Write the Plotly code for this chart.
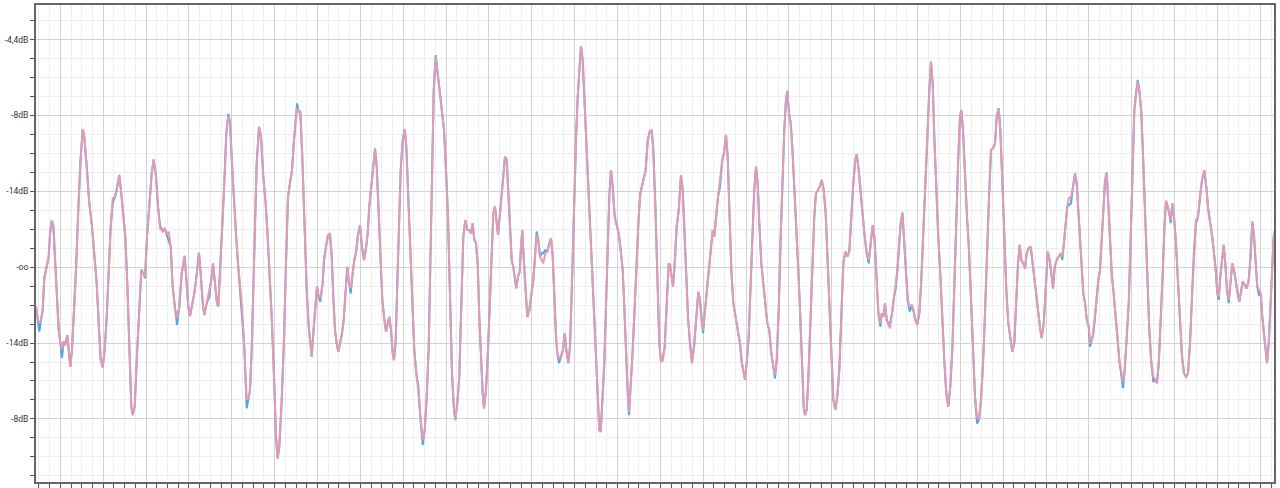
import plotly.graph_objects as go

# x: time (major grid = 1 unit), y: linear amplitude (labels shown in dB)
x_vals = [
-0.567,-0.520,-0.490,-0.450,-0.411,-0.373,-0.317,-0.271,-0.240,-0.201,
-0.163,-0.124,-0.084,-0.037,-0.007,0.040,0.079,0.117,0.163,0.196,
0.233,0.273,0.313,0.366,0.420,0.467,0.523,0.560,0.616,0.677,
0.740,0.803,0.849,0.896,0.943,0.989,1.036,1.083,1.129,1.176,
1.223,1.269,1.307,1.346,1.377,1.423,1.470,1.517,1.563,1.610,
1.657,1.689,1.736,1.783,1.843,1.890,1.937,1.976,2.023,2.077,
2.133,2.179,2.233,2.280,2.326,2.389,2.436,2.483,2.529,2.576,
2.622,2.676,2.723,2.777,2.833,2.902,2.949,2.986,3.026,3.073,
3.126,3.173,3.236,3.276,3.323,3.360,3.416,3.476,3.523,3.563,
3.609,3.656,3.686,3.733,3.789,3.836,3.873,3.920,3.959,4.006,
4.053,4.099,4.146,4.193,4.239,4.293,4.349,4.396,4.426,4.466,
4.503,4.543,4.582,4.636,4.683,4.736,4.792,4.839,4.893,4.939,
4.986,5.033,5.072,5.110,5.166,5.219,5.266,5.313,5.359,5.406,
5.453,5.492,5.523,5.562,5.600,5.646,5.693,5.749,5.796,5.826,
5.866,5.903,5.950,5.989,6.029,6.066,6.122,6.153,6.199,6.246,
6.293,6.332,6.370,6.409,6.449,6.486,6.526,6.573,6.612,6.650,
6.696,6.736,6.776,6.813,6.860,6.899,6.939,6.993,7.039,7.086,
7.133,7.172,7.210,7.256,7.303,7.343,7.383,7.429,7.476,7.513,
7.553,7.599,7.639,7.676,7.716,7.756,7.786,7.826,7.863,7.903,
7.942,7.989,8.036,8.073,8.120,8.166,8.213,8.259,8.306,8.353,
8.400,8.456,8.503,8.549,8.596,8.633,8.673,8.713,8.759,8.796,
8.843,8.899,8.953,8.999,9.046,9.093,9.139,9.186,9.216,9.263,
9.309,9.326,9.366,9.403,9.450,9.496,9.543,9.582,9.622,9.659,
9.699,9.739,9.776,9.816,9.855,9.886,9.932,9.979,10.026,10.072,
10.103,10.142,10.182,10.212,10.252,10.299,10.336,10.376,10.415,10.453,
10.492,10.532,10.569,10.609,10.639,10.679,10.719,10.749,10.779,10.819,
10.859,10.896,10.943,10.989,11.036,11.076,11.115,11.153,11.192,11.232,
11.270,11.316,11.363,11.410,11.449,11.489,11.526,11.566,11.596,11.636,
11.682,11.729,11.769,11.806,11.853,11.892,11.939,11.986,12.032,12.072,
12.109,12.149,12.188,12.226,12.266,12.312,12.359,12.406,12.452,12.499,
12.539,12.576,12.609,12.646,12.693,12.732,12.772,12.809,12.849,12.889,
12.935,12.982,13.029,13.075,13.122,13.159,13.199,13.239,13.269,13.309,
13.355,13.402,13.449,13.495,13.533,13.572,13.619,13.658,13.705,13.752,
13.798,13.836,13.882,13.929,13.976,14.016,14.055,14.102,14.149,14.195,
14.226,14.265,14.296,14.335,14.382,14.429,14.482,14.522,14.559,14.599,
14.646,14.692,14.739,14.786,14.832,14.886,14.925,14.965,14.996,15.035,
15.082,15.129,15.175,15.222,15.259,15.299,15.346,15.392,15.446,15.485,
15.532,15.572,15.609,15.656,15.703,15.742,15.782,15.819,15.859,15.898,
15.935,15.975,16.015,16.062,16.108,16.155,16.192,16.232,16.272,16.309,
16.356,16.402,16.449,16.496,16.542,16.589,16.636,16.675,16.715,16.762,
16.808,16.855,16.892,16.932,16.962,17.002,17.042,17.079,17.125,17.172,
17.219,17.266,17.305,17.345,17.375,17.415,17.452,17.499,17.546,17.592,
17.632,17.672,17.718,17.765,17.812,17.858,17.905,17.952,17.998,18.036,
18.082,18.129,18.176,18.222,18.269,18.316,18.362,18.409,18.456,18.502,
18.549,18.582,18.628,18.675,18.722,18.768,18.815,18.862,18.908,18.955,
18.995,19.041,19.088,19.135,19.165,19.203,19.242,19.282,19.319,19.359,
19.406,19.452,19.492,19.532,19.569,19.609,19.649,19.686,19.725,19.772,
19.819,19.865,19.903,19.950,19.996,20.043,20.089,20.136,20.183,20.229,
20.276,20.315,20.355,20.392,20.439,20.485,20.532,20.579,20.625,20.672,
20.719,20.765,20.812,20.859,20.905,20.952,20.992,21.022,21.062,21.109,
21.155,21.202,21.249,21.295,21.342,21.389,21.435,21.482,21.529,21.575,
21.622,21.669,21.715,21.762,21.809,21.848,21.895,21.932,21.979,22.025,
22.072,22.119,22.165,22.212,22.259,22.298,22.345,22.385,22.422,22.469,
22.509,22.548,22.595,22.642,22.688,22.735,22.772,22.819,22.866,22.898,
22.945,22.992,23.038,23.085,23.122,23.162,23.202,23.248,23.295,23.342,
23.379,23.418,23.458,23.496,23.535,23.582,23.629,23.675,23.715,23.752,
23.792,23.832,23.869,23.909,23.949,23.995,24.026,24.065,24.103,24.142,
24.182,24.219,24.259,24.299,24.336,24.376,24.415,24.453,24.492,24.532,
24.569,24.616,24.663,24.709,24.756,24.796,24.835,24.882,24.929,24.975,
25.022,25.059,25.099,25.139,25.176,25.223,25.269,25.316,25.363,25.409,
25.456,25.503,25.549,25.589,25.629,25.676,25.722,25.759,25.798,25.838,
25.875,25.908,25.945,25.985,26.032,26.078,26.125,26.172,26.218,26.265,
26.312,26.358,26.405,26.452,26.498,26.545,26.592,26.638,26.692,26.739,
26.785,26.832,26.878,26.918,26.958,26.995,27.028,27.065,27.105,27.144,
27.182,27.221,27.261,27.298,27.345,27.385,27.424,27.471,27.508,27.548,
27.588,27.634,27.681,27.728,27.765,27.812,27.852,27.891,27.928,27.968,
28.008,28.045,28.085,28.125,28.155,28.195,28.232,28.272,28.311,28.342,
]

pink_vals = [
-0.104,-0.139,-0.148,-0.139,-0.113,-0.029,0.001,0.028,0.089,0.123,
0.111,0.028,-0.078,-0.166,-0.192,-0.218,-0.196,-0.205,-0.179,-0.218,
-0.262,-0.218,-0.139,-0.007,0.151,0.274,0.364,0.344,0.265,0.168,
0.107,0.019,-0.042,-0.148,-0.245,-0.264,-0.218,-0.131,-0.007,0.107,
0.182,0.182,0.199,0.225,0.243,0.195,0.146,0.080,-0.042,-0.210,
-0.368,-0.390,-0.368,-0.245,-0.104,-0.007,-0.016,-0.025,0.080,0.177,
0.248,0.284,0.239,0.160,0.103,0.094,0.103,0.085,0.094,0.054,
-0.051,-0.113,-0.135,-0.104,-0.016,0.030,-0.042,-0.104,-0.129,-0.100,
-0.069,-0.029,0.038,-0.016,-0.095,-0.126,-0.095,-0.069,-0.034,0.010,
-0.042,-0.095,-0.104,-0.007,0.133,0.248,0.353,0.399,0.384,0.274,
0.168,0.089,0.010,-0.042,-0.104,-0.210,-0.350,-0.341,-0.324,-0.218,
-0.042,0.133,0.274,0.370,0.344,0.239,0.168,0.080,-0.034,-0.148,
-0.289,-0.447,-0.504,-0.473,-0.350,-0.192,0.010,0.186,0.221,0.256,
0.335,0.397,0.419,0.410,0.410,0.291,0.133,-0.060,-0.157,-0.201,
-0.236,-0.174,-0.113,-0.051,-0.078,-0.082,-0.042,0.019,0.054,0.085,
0.088,0.028,-0.078,-0.166,-0.201,-0.223,-0.201,-0.174,-0.139,-0.069,
0.001,-0.042,-0.056,-0.025,0.019,0.037,0.080,0.111,0.054,0.019,
0.050,0.089,0.160,0.212,0.274,0.313,0.265,0.133,0.010,-0.086,
-0.131,-0.170,-0.148,-0.131,-0.166,-0.227,-0.245,-0.192,-0.042,0.133,
0.256,0.335,0.364,0.318,0.186,0.037,-0.104,-0.218,-0.280,-0.324,
-0.394,-0.456,-0.429,-0.341,-0.210,-0.016,0.256,0.467,0.555,0.520,
0.467,0.423,0.362,0.256,0.133,-0.078,-0.280,-0.376,-0.403,-0.359,
-0.289,-0.218,-0.042,0.080,0.124,0.098,0.098,0.089,0.116,0.072,
0.063,0.010,-0.131,-0.253,-0.332,-0.372,-0.324,-0.218,-0.078,0.080,
0.142,0.160,0.124,0.085,0.133,0.195,0.239,0.291,0.283,0.204,
0.098,0.019,0.001,-0.034,-0.056,-0.025,-0.012,0.054,0.098,0.010,
-0.078,-0.131,-0.113,-0.069,-0.034,0.028,0.085,0.072,0.028,0.019,
0.010,0.037,0.041,0.063,0.076,0.028,-0.078,-0.183,-0.227,-0.240,
-0.236,-0.218,-0.174,-0.218,-0.253,-0.210,-0.042,0.160,0.335,0.450,
0.529,0.583,0.546,0.450,0.335,0.204,0.080,-0.042,-0.131,-0.236,
-0.341,-0.429,-0.434,-0.368,-0.253,-0.104,0.063,0.186,0.256,0.212,
0.133,0.107,0.089,0.045,-0.007,-0.104,-0.236,-0.332,-0.381,-0.315,
-0.218,-0.104,0.028,0.133,0.195,0.212,0.239,0.256,0.335,0.357,
0.362,0.309,0.168,-0.007,-0.201,-0.249,-0.245,-0.210,-0.078,0.010,
0.006,-0.025,-0.051,0.010,0.107,0.151,0.243,0.204,0.089,-0.016,
-0.131,-0.201,-0.253,-0.210,-0.131,-0.065,-0.086,-0.148,-0.166,-0.122,
-0.069,-0.007,0.054,0.098,0.080,0.133,0.186,0.230,0.283,0.300,
0.349,0.291,0.168,-0.007,-0.095,-0.122,-0.148,-0.174,-0.201,-0.249,
-0.271,-0.297,-0.253,-0.183,-0.042,0.098,0.204,0.265,0.221,0.116,
0.010,-0.042,-0.095,-0.148,-0.166,-0.227,-0.262,-0.284,-0.245,-0.113,
0.080,0.248,0.362,0.441,0.465,0.406,0.379,0.318,0.221,0.116,
-0.007,-0.131,-0.253,-0.368,-0.390,-0.376,-0.297,-0.139,0.028,0.133,
0.195,0.204,0.212,0.230,0.204,0.142,0.010,-0.139,-0.271,-0.350,
-0.376,-0.341,-0.271,-0.148,0.010,0.041,0.028,0.041,0.142,0.221,
0.283,0.298,0.256,0.195,0.133,0.080,0.037,0.019,0.063,0.111,
0.080,-0.042,-0.122,-0.148,-0.122,-0.131,-0.095,-0.139,-0.148,-0.161,
-0.122,-0.078,-0.056,-0.007,0.063,0.116,0.144,0.080,-0.007,-0.086,
-0.104,-0.100,-0.113,-0.139,-0.152,-0.122,-0.034,0.098,0.204,0.335,
0.467,0.542,0.485,0.344,0.186,0.080,-0.016,-0.139,-0.245,-0.332,
-0.368,-0.315,-0.218,-0.051,0.133,0.291,0.397,0.414,0.362,0.239,
0.133,0.045,-0.086,-0.227,-0.341,-0.394,-0.403,-0.350,-0.253,-0.122,
0.054,0.186,0.309,0.313,0.327,0.397,0.419,0.362,0.230,0.080,
-0.060,-0.148,-0.192,-0.223,-0.201,-0.095,0.010,0.059,0.019,0.010,
-0.003,0.037,0.050,0.054,0.010,-0.042,-0.086,-0.131,-0.166,-0.187,
-0.148,-0.060,0.041,0.019,-0.016,-0.056,0.001,0.019,0.028,0.037,
0.028,0.063,0.116,0.160,0.182,0.186,0.212,0.248,0.221,0.160,
0.080,0.001,-0.069,-0.095,-0.139,-0.157,-0.201,-0.192,-0.174,-0.131,
-0.069,-0.034,-0.007,0.080,0.160,0.230,0.249,0.168,0.063,-0.016,
-0.060,-0.113,-0.183,-0.245,-0.280,-0.302,-0.271,-0.192,-0.095,0.080,
0.274,0.414,0.458,0.489,0.467,0.406,0.274,0.124,-0.025,-0.166,
-0.253,-0.289,-0.297,-0.306,-0.253,-0.148,-0.016,0.098,0.175,0.160,
0.142,0.124,0.168,0.133,0.063,-0.042,-0.148,-0.236,-0.280,-0.289,
-0.280,-0.201,-0.078,0.045,0.124,0.133,0.186,0.230,0.256,0.212,
0.151,0.116,0.080,0.037,-0.007,-0.069,-0.078,-0.025,0.028,0.059,
0.010,-0.060,-0.086,-0.042,0.010,-0.007,-0.042,-0.069,-0.091,-0.060,
-0.038,-0.047,-0.056,-0.034,0.019,0.120,0.089,0.010,-0.051,-0.060,
-0.069,-0.131,-0.183,-0.236,-0.253,-0.201,-0.113,-0.007,0.080,0.098,
]

blue_vals = [
-0.104,-0.139,-0.170,-0.139,-0.113,-0.029,0.001,0.028,0.089,0.123,
0.111,0.028,-0.078,-0.166,-0.192,-0.239,-0.196,-0.205,-0.179,-0.218,
-0.262,-0.218,-0.139,-0.007,0.151,0.274,0.364,0.344,0.265,0.168,
0.107,0.019,-0.042,-0.148,-0.245,-0.264,-0.218,-0.131,-0.007,0.107,
0.168,0.182,0.199,0.225,0.243,0.195,0.146,0.080,-0.042,-0.210,
-0.368,-0.390,-0.368,-0.245,-0.104,-0.007,-0.016,-0.029,0.080,0.177,
0.248,0.284,0.239,0.160,0.111,0.094,0.103,0.085,0.067,0.054,
-0.051,-0.113,-0.152,-0.104,-0.016,0.030,-0.042,-0.104,-0.129,-0.100,
-0.069,-0.029,0.038,-0.016,-0.095,-0.126,-0.095,-0.078,-0.034,0.010,
-0.042,-0.095,-0.104,-0.007,0.133,0.248,0.353,0.404,0.384,0.274,
0.168,0.089,0.010,-0.060,-0.104,-0.210,-0.372,-0.341,-0.324,-0.218,
-0.042,0.133,0.274,0.370,0.344,0.239,0.168,0.080,-0.034,-0.148,
-0.289,-0.447,-0.504,-0.473,-0.350,-0.192,0.010,0.186,0.221,0.256,
0.335,0.397,0.432,0.410,0.410,0.291,0.133,-0.060,-0.157,-0.201,
-0.236,-0.174,-0.113,-0.051,-0.078,-0.091,-0.042,0.019,0.054,0.085,
0.088,0.028,-0.078,-0.166,-0.201,-0.223,-0.201,-0.174,-0.139,-0.069,
0.001,-0.042,-0.069,-0.025,0.019,0.037,0.080,0.111,0.054,0.019,
0.050,0.089,0.160,0.212,0.274,0.313,0.265,0.133,0.010,-0.086,
-0.131,-0.170,-0.148,-0.131,-0.166,-0.227,-0.245,-0.192,-0.042,0.133,
0.256,0.335,0.364,0.318,0.186,0.037,-0.104,-0.218,-0.280,-0.315,
-0.394,-0.469,-0.429,-0.341,-0.210,-0.016,0.256,0.467,0.559,0.520,
0.467,0.423,0.362,0.256,0.133,-0.078,-0.280,-0.376,-0.403,-0.359,
-0.289,-0.218,-0.042,0.080,0.124,0.098,0.098,0.089,0.116,0.072,
0.063,0.010,-0.131,-0.253,-0.332,-0.372,-0.324,-0.218,-0.078,0.080,
0.142,0.160,0.124,0.085,0.133,0.195,0.239,0.291,0.283,0.204,
0.098,0.019,0.001,-0.034,-0.056,-0.025,-0.012,0.054,0.098,0.010,
-0.078,-0.131,-0.113,-0.069,-0.034,0.028,0.094,0.072,0.028,0.037,
0.037,0.045,0.041,0.063,0.076,0.028,-0.078,-0.183,-0.227,-0.253,
-0.236,-0.218,-0.174,-0.218,-0.253,-0.210,-0.042,0.160,0.335,0.450,
0.529,0.583,0.546,0.450,0.335,0.204,0.080,-0.042,-0.131,-0.236,
-0.341,-0.429,-0.434,-0.368,-0.253,-0.104,0.063,0.186,0.256,0.212,
0.133,0.107,0.089,0.045,-0.007,-0.104,-0.236,-0.332,-0.390,-0.315,
-0.218,-0.104,0.028,0.133,0.195,0.212,0.239,0.256,0.335,0.357,
0.362,0.309,0.168,-0.007,-0.201,-0.249,-0.245,-0.210,-0.078,0.010,
0.006,-0.025,-0.051,0.010,0.107,0.151,0.243,0.204,0.089,-0.016,
-0.131,-0.201,-0.253,-0.210,-0.131,-0.065,-0.086,-0.148,-0.174,-0.122,
-0.069,-0.007,0.054,0.098,0.080,0.133,0.186,0.212,0.283,0.300,
0.349,0.291,0.168,-0.007,-0.095,-0.122,-0.148,-0.174,-0.201,-0.249,
-0.271,-0.297,-0.253,-0.183,-0.042,0.098,0.204,0.265,0.221,0.116,
0.010,-0.042,-0.095,-0.148,-0.166,-0.227,-0.262,-0.293,-0.245,-0.113,
0.080,0.248,0.362,0.441,0.465,0.406,0.379,0.318,0.221,0.116,
-0.007,-0.131,-0.253,-0.368,-0.390,-0.376,-0.297,-0.139,0.028,0.133,
0.195,0.204,0.212,0.230,0.204,0.142,0.010,-0.139,-0.271,-0.350,
-0.376,-0.341,-0.271,-0.148,0.010,0.041,0.028,0.041,0.142,0.221,
0.283,0.298,0.256,0.195,0.133,0.080,0.037,0.010,0.063,0.111,
0.080,-0.042,-0.122,-0.157,-0.122,-0.131,-0.095,-0.139,-0.148,-0.148,
-0.122,-0.078,-0.056,-0.007,0.063,0.116,0.144,0.080,-0.007,-0.086,
-0.117,-0.100,-0.113,-0.139,-0.152,-0.122,-0.034,0.098,0.204,0.335,
0.467,0.542,0.485,0.344,0.186,0.080,-0.016,-0.139,-0.245,-0.332,
-0.368,-0.315,-0.218,-0.051,0.133,0.291,0.397,0.414,0.362,0.239,
0.133,0.045,-0.086,-0.227,-0.341,-0.412,-0.403,-0.350,-0.253,-0.122,
0.054,0.186,0.309,0.313,0.327,0.397,0.419,0.362,0.230,0.080,
-0.060,-0.148,-0.192,-0.223,-0.201,-0.095,0.010,0.059,0.019,0.010,
-0.003,0.037,0.050,0.054,0.010,-0.042,-0.086,-0.131,-0.166,-0.187,
-0.148,-0.060,0.041,0.019,-0.016,-0.056,0.001,0.019,0.028,0.037,
0.019,0.063,0.116,0.160,0.164,0.168,0.212,0.248,0.221,0.160,
0.080,0.001,-0.069,-0.095,-0.139,-0.157,-0.210,-0.192,-0.174,-0.131,
-0.069,-0.034,-0.007,0.080,0.160,0.230,0.249,0.168,0.063,-0.016,
-0.060,-0.113,-0.183,-0.245,-0.280,-0.319,-0.271,-0.192,-0.095,0.080,
0.274,0.414,0.458,0.494,0.467,0.406,0.274,0.124,-0.025,-0.166,
-0.253,-0.302,-0.297,-0.306,-0.253,-0.148,-0.016,0.098,0.175,0.160,
0.142,0.116,0.168,0.133,0.063,-0.042,-0.148,-0.236,-0.280,-0.289,
-0.280,-0.201,-0.078,0.045,0.116,0.133,0.186,0.230,0.256,0.212,
0.151,0.116,0.080,0.037,-0.007,-0.069,-0.086,-0.025,0.028,0.059,
0.010,-0.060,-0.095,-0.042,0.010,-0.007,-0.042,-0.069,-0.091,-0.060,
-0.038,-0.047,-0.056,-0.034,0.019,0.120,0.080,0.010,-0.051,-0.073,
-0.069,-0.131,-0.183,-0.236,-0.253,-0.201,-0.113,-0.007,0.080,0.098,
]

y_tick_vals = [-0.4, -0.2, 0.0, 0.2, 0.4, 0.6]
y_tick_text = ["-8dB", "-14dB", "-oo", "-14dB", "-8dB", "-4,4dB"]

fig = go.Figure()
fig.add_trace(go.Scatter(x=x_vals, y=blue_vals, mode="lines",
                         line=dict(color="#4aa8e4", width=2), hoverinfo="skip"))
fig.add_trace(go.Scatter(x=x_vals, y=pink_vals, mode="lines",
                         line=dict(color="#e59ab4", width=2), hoverinfo="skip"))

fig.update_layout(
    width=1280, height=488, autosize=False,
    margin=dict(l=36, r=6, t=5, b=6, pad=0),
    paper_bgcolor="white", plot_bgcolor="white",
    showlegend=False,
    font=dict(family="Roboto, Arial, sans-serif", size=9, color="#333"),
)
fig.update_xaxes(
    range=[-0.567, 28.318], tickmode="linear", tick0=0, dtick=1, automargin=False,
    showticklabels=False, ticks="outside", ticklen=4, tickwidth=1, tickcolor="#555",
    showgrid=True, gridcolor="#d2d2d2", gridwidth=1,
    minor=dict(tickmode="linear", tick0=0, dtick=0.25, ticks="outside", ticklen=4,
               tickwidth=1, tickcolor="#555", showgrid=True, gridcolor="#eeeeee", gridwidth=1),
    showline=True, linecolor="#666", linewidth=2, mirror=True, zeroline=False,
)
fig.update_yaxes(
    range=[-0.5663, 0.6913], tickmode="array", tickvals=y_tick_vals, ticktext=y_tick_text,
    automargin=False,
    ticks="outside", ticklen=4, tickwidth=1, tickcolor="#555",
    showgrid=True, gridcolor="#d2d2d2", gridwidth=1,
    minor=dict(tickmode="linear", tick0=0, dtick=0.05, ticks="outside", ticklen=4,
               tickwidth=1, tickcolor="#555", showgrid=True, gridcolor="#eeeeee", gridwidth=1),
    showline=True, linecolor="#666", linewidth=2, mirror=True, zeroline=False,
    tickfont=dict(family="Roboto, Arial, sans-serif", size=8.5, color="#333"),
)

fig.write_html("out.html",
               config={"displayModeBar": False, "staticPlot": True},
               post_script="document.body.style.margin='0';document.body.style.padding='0';")
